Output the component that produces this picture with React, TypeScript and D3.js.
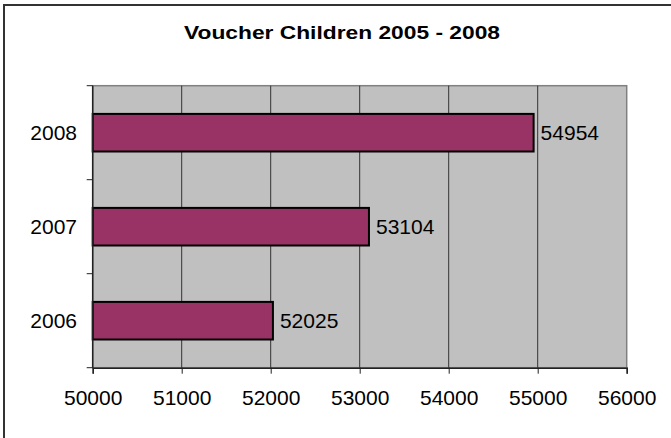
import { useEffect, useRef } from 'react';
import * as d3 from 'd3';

const YEARS = ['2008', '2007', '2006'];
const CHILDREN = [54954, 53104, 52025];
const X_TICKS = [50000, 51000, 52000, 53000, 54000, 55000, 56000];
const TITLE = 'Voucher Children 2005 - 2008';

const WIDTH = 671;
const HEIGHT = 438;
const FONT = 'Arial, "Liberation Sans", sans-serif';

export default function App() {
  const ref = useRef<SVGSVGElement | null>(null);

  useEffect(() => {
    document.body.style.margin = '0';
    if (!ref.current) return;
    const svg = d3.select(ref.current);
    svg.selectAll('*').remove();

    const plot = { left: 92.7, right: 626.7, top: 85.7, bottom: 367.7 };

    // outer chart frame (right/bottom edges fall outside the picture)
    svg
      .append('rect')
      .attr('x', 4)
      .attr('y', 5)
      .attr('width', WIDTH + 10)
      .attr('height', HEIGHT + 10)
      .attr('fill', '#fff')
      .attr('stroke', '#333')
      .attr('stroke-width', 2);

    // title is drawn wide in the original, so stretch it to the same span
    svg
      .append('text')
      .attr('x', 342)
      .attr('y', 38.5)
      .attr('text-anchor', 'middle')
      .attr('textLength', 316)
      .attr('lengthAdjust', 'spacingAndGlyphs')
      .style('font-family', FONT)
      .style('font-size', '19px')
      .style('font-weight', 700)
      .text(TITLE);

    const x = d3
      .scaleLinear()
      .domain([X_TICKS[0], X_TICKS[X_TICKS.length - 1]])
      .range([plot.left, plot.right]);

    const y = d3
      .scaleBand()
      .domain(YEARS)
      .range([plot.top, plot.bottom])
      .paddingInner(0.6)
      .paddingOuter(0.3);

    // plot area
    svg
      .append('rect')
      .attr('x', plot.left)
      .attr('y', plot.top)
      .attr('width', plot.right - plot.left)
      .attr('height', plot.bottom - plot.top)
      .attr('fill', '#c0c0c0')
      .attr('stroke', '#808080')
      .attr('stroke-width', 1.5);

    // vertical gridlines
    svg
      .append('g')
      .selectAll('line')
      .data(X_TICKS.slice(1, -1))
      .join('line')
      .attr('x1', d => x(d))
      .attr('x2', d => x(d))
      .attr('y1', plot.top)
      .attr('y2', plot.bottom)
      .attr('stroke', '#333')
      .attr('stroke-width', 1);

    // bars
    svg
      .append('g')
      .selectAll('rect')
      .data(YEARS)
      .join('rect')
      .attr('x', plot.left)
      .attr('y', d => y(d)!)
      .attr('width', (_, i) => x(CHILDREN[i]) - plot.left)
      .attr('height', y.bandwidth())
      .attr('fill', '#993366')
      .attr('stroke', '#000')
      .attr('stroke-width', 2);

    // value labels
    svg
      .append('g')
      .selectAll('text')
      .data(YEARS)
      .join('text')
      .attr('x', (_, i) => x(CHILDREN[i]) + 7)
      .attr('y', d => y(d)! + y.bandwidth() / 2)
      .attr('dy', '0.36em')
      .style('font-family', FONT)
      .style('font-size', '21px')
      .text((_, i) => String(CHILDREN[i]));

    // x axis
    const xAxis = svg
      .append('g')
      .attr('transform', `translate(0,${plot.bottom})`)
      .call(
        d3
          .axisBottom(x)
          .tickValues(X_TICKS)
          .tickSize(6)
          .tickPadding(16)
          .tickFormat(d => String(d))
      );
    xAxis.select('.domain').attr('stroke', '#222').attr('stroke-width', 1.5);
    xAxis.selectAll('.tick line').attr('stroke', '#222');
    xAxis
      .selectAll('.tick text')
      .style('font-family', FONT)
      .style('font-size', '21px')
      .attr('fill', '#000');

    // y axis
    const bounds = [plot.top, ...YEARS.map(d => y(d)! + y.bandwidth() / 2 + y.step() / 2)];
    const yAxis = svg.append('g');
    yAxis
      .append('line')
      .attr('x1', plot.left)
      .attr('x2', plot.left)
      .attr('y1', plot.top)
      .attr('y2', plot.bottom)
      .attr('stroke', '#222')
      .attr('stroke-width', 1.5);
    yAxis
      .selectAll('line.tick')
      .data(bounds)
      .join('line')
      .attr('class', 'tick')
      .attr('x1', plot.left - 6)
      .attr('x2', plot.left)
      .attr('y1', d => d)
      .attr('y2', d => d)
      .attr('stroke', '#222');
    yAxis
      .selectAll('text')
      .data(YEARS)
      .join('text')
      .attr('x', 77)
      .attr('y', d => y(d)! + y.bandwidth() / 2)
      .attr('dy', '0.36em')
      .attr('text-anchor', 'end')
      .style('font-family', FONT)
      .style('font-size', '21px')
      .text(d => d);
  }, []);

  return <svg ref={ref} width={WIDTH} height={HEIGHT} style={{ display: 'block' }} />;
}
